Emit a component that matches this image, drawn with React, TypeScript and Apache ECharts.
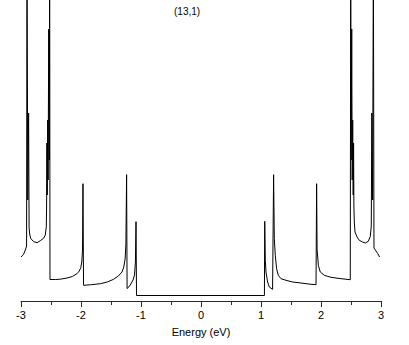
import React, { useEffect, useRef } from "react";
import * as echarts from "echarts";

// Energy (eV) sample points
const energy: number[] = [
  -3.0, -2.957, -2.928, -2.907, -2.9, -2.887, -2.873, -2.865, -2.853, -2.837,
  -2.79, -2.733, -2.678, -2.623, -2.595, -2.578, -2.573, -2.568, -2.563, -2.555,
  -2.548, -2.538, -2.53, -2.522, -2.517, -2.428, -2.345, -2.233, -2.145, -2.067,
  -2.028, -2.003, -1.987, -1.975, -1.967, -1.958, -1.845, -1.678, -1.562, -1.457,
  -1.378, -1.317, -1.287, -1.265, -1.252, -1.24, -1.232, -1.203, -1.17, -1.133,
  -1.108, -1.093, -1.083, -1.075, -0.5, 0, 0.5, 1.057,
  1.062, 1.072, 1.083, 1.11, 1.138, 1.193, 1.21, 1.222, 1.238, 1.26,
  1.288, 1.333, 1.417, 1.527, 1.667, 1.833, 1.917, 1.927, 1.935, 1.947,
  1.955, 1.988, 2.055, 2.167, 2.333, 2.488, 2.495, 2.503, 2.512, 2.52,
  2.528, 2.537, 2.543, 2.548, 2.555, 2.567, 2.6, 2.638, 2.693, 2.738,
  2.788, 2.822, 2.838, 2.847, 2.86, 2.873, 2.883, 2.905, 2.943, 2.977,
];

// Density of states (arbitrary units); values above the top are clipped
const dos: number[] = [
  0.44, 0.467, 0.51, 0.55, 3.5, 1.01, 1.88, 0.73, 0.66, 0.625,
  0.593, 0.583, 0.603, 0.627, 0.66, 0.743, 0.96, 1.58, 1.06, 1.81,
  1.21, 2.72, 1.41, 3.5, 0.215, 0.215, 0.218, 0.23, 0.245, 0.273,
  0.3, 0.335, 0.39, 0.51, 1.173, 0.157, 0.162, 0.173, 0.19, 0.217,
  0.25, 0.29, 0.34, 0.42, 0.56, 1.263, 0.125, 0.14, 0.17, 0.21,
  0.26, 0.39, 0.793, 0.055, 0.055, 0.055, 0.055, 0.055,
  0.797, 0.407, 0.29, 0.19, 0.14, 0.117, 1.263, 0.623, 0.457, 0.323,
  0.257, 0.223, 0.207, 0.19, 0.18, 0.167, 0.163, 1.173, 0.51, 0.43,
  0.357, 0.29, 0.257, 0.237, 0.223, 0.213, 3.5, 1.41, 2.72, 1.21,
  1.81, 1.06, 1.58, 0.96, 0.79, 0.69, 0.64, 0.607, 0.59, 0.58,
  0.597, 0.645, 0.75, 1.88, 1.01, 3.5, 0.53, 0.51, 0.477, 0.44,
];

const titleText = "(13,1)";
const xName = "Energy (eV)";
const xMin = -3;
const xMax = 3;
const xInterval = 1;

export default function App() {
  const ref = useRef<HTMLDivElement>(null);
  useEffect(() => {
    document.body.style.margin = "0";
    if (!ref.current) return;
    const chart = echarts.init(ref.current, undefined, { renderer: "svg" });
    const blue = "#1a1aa6";
    const font = "'Liberation Sans', Arial, sans-serif";
    chart.setOption({
      animation: false,
      backgroundColor: "#ffffff",
      title: {
        text: titleText,
        left: 169,
        top: 1,
        textStyle: { fontSize: 10, fontWeight: "normal", color: "#000", fontFamily: font },
      },
      grid: { left: 21, right: 28, top: 0, bottom: 44 },
      xAxis: {
        type: "value",
        min: xMin,
        max: xMax,
        interval: xInterval,
        name: xName,
        nameLocation: "middle",
        nameGap: 25,
        nameTextStyle: { fontSize: 11, color: "#000", fontFamily: font },
        axisLine: { show: true, lineStyle: { color: blue, width: 1 } },
        axisTick: { show: true, length: 6, lineStyle: { color: blue, width: 1 } },
        minorTick: { show: true, splitNumber: 2, length: 4, lineStyle: { color: blue, width: 1 } },
        axisLabel: { fontSize: 11, color: "#000", margin: 8, fontFamily: font },
        splitLine: { show: false },
      },
      yAxis: {
        type: "value",
        min: 0,
        max: 3.01,
        show: false,
        splitLine: { show: false },
      },
      series: [
        {
          type: "line",
          data: energy.map((e, i) => [e, dos[i]]),
          showSymbol: false,
          symbol: "none",
          clip: true,
          lineStyle: { color: "#000", width: 1 },
          silent: true,
        },
      ],
    });
    return () => chart.dispose();
  }, []);
  return (
    <div
      ref={ref}
      style={{ position: "fixed", left: 0, top: 0, width: 409, height: 345 }}
    />
  );
}
